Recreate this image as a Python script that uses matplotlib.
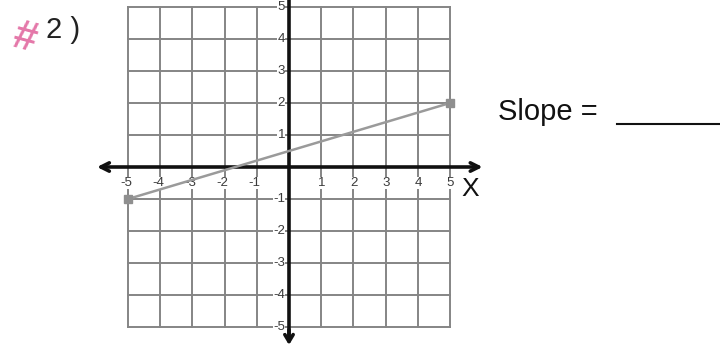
import matplotlib
matplotlib.use("Agg")
import matplotlib.pyplot as plt
import numpy as np

plt.rcParams['font.family'] = ['Liberation Sans', 'DejaVu Sans']

# data
grid_vals = list(range(-5, 6))
x_ticks = [-5, -4, -3, -2, -1, 1, 2, 3, 4, 5]
y_ticks = [5, 4, 3, 2, 1, -1, -2, -3, -4, -5]
line_x = [-5, 5]
line_y = [-1, 2]

# pixel mapping: origin at (289, 167), ~32.2 px per unit in x, 32 in y
fig = plt.figure(figsize=(7.2, 3.51), dpi=100)
ax = fig.add_axes([0, 0, 1, 1])
ax.set_xlim(-289 / 32.2, (720 - 289) / 32.2)
ax.set_ylim((167 - 351) / 32.0, 167 / 32.0)
ax.axis('off')

# grid
for v in grid_vals:
    ax.plot([v, v], [-5, 5], color='#858585', lw=1.4, zorder=1)
    ax.plot([-5, 5], [v, v], color='#858585', lw=1.4, zorder=1)

# axes with arrows
ax.annotate('', xy=(-6.05, 0), xytext=(6.1, 0),
            arrowprops=dict(arrowstyle='<->,head_length=0.6,head_width=0.3',
                            color='#111111', lw=2.6), zorder=3)
ax.plot([0, 0], [5.3, -5.3], color='#111111', lw=2.6, zorder=3)
ax.annotate('', xy=(0, -5.65), xytext=(0, -5.0),
            arrowprops=dict(arrowstyle='->,head_length=0.5,head_width=0.3',
                            color='#111111', lw=2.6), zorder=3)

# tick labels
for t in x_ticks:
    ax.text(t + 0.12, -0.5, str(t), ha='right', va='center', fontsize=9.5,
            color='#3a3a3a', zorder=4,
            bbox=dict(facecolor='white', edgecolor='none', pad=0.2))
for t in y_ticks:
    ax.text(-0.12, t, str(t), ha='right', va='center', fontsize=9.5,
            color='#3a3a3a', zorder=4,
            bbox=dict(facecolor='white', edgecolor='none', pad=0.2))

# the line
ax.plot(line_x, line_y, color='#9a9a9a', lw=1.8, marker='s', markersize=6,
        markerfacecolor='#8f8f8f', markeredgecolor='#8f8f8f', zorder=5)

ax.text(5.35, -0.68, 'X', fontsize=19, color='#111111', ha='left', va='center')

ax.text((498 - 289) / 32.2, (167 - 112) / 32.0, 'Slope = ', fontsize=21,
        color='#111111', ha='left', va='center')
ax.plot([(617 - 289) / 32.2, (720 - 289) / 32.2], [(167 - 124) / 32.0] * 2,
        color='#111111', lw=1.5)

ax.text((46 - 289) / 32.2, (167 - 30) / 32.0, '2 )', fontsize=21,
        color='#222222', ha='left', va='center')
ax.text((8 - 289) / 32.2, (167 - 38) / 32.0, '#', fontsize=30,
        color='#e0609a', ha='left', va='center', rotation=-15,
        fontweight='bold', alpha=0.85)

fig.savefig('out.png', dpi=100)
